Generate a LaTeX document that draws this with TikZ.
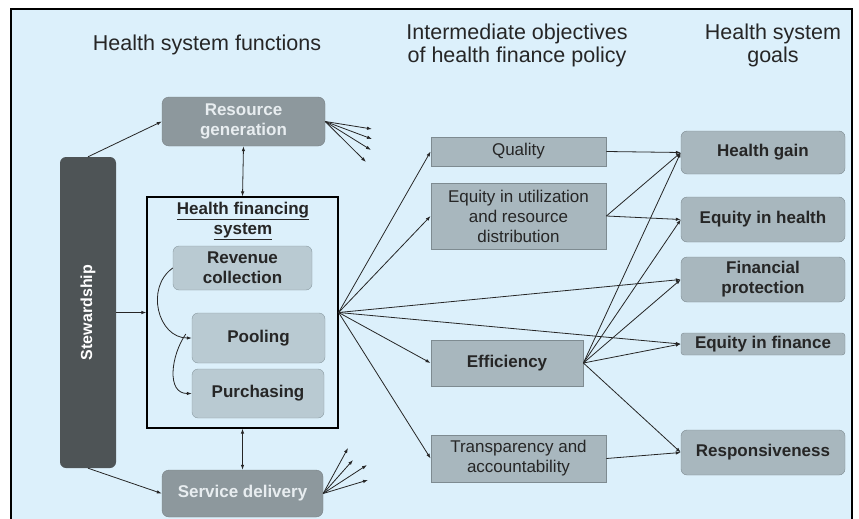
\documentclass[tikz,border=0pt]{standalone}
\usepackage{fontspec}
\usepackage{graphicx}
\setmainfont{Liberation Sans}
\usetikzlibrary{arrows.meta}

\definecolor{bg}{HTML}{DCF0FB}
\definecolor{stewfill}{HTML}{4E5456}
\definecolor{darkfill}{HTML}{8D989D}
\definecolor{darktext}{HTML}{E8EDF0}
\definecolor{subfill}{HTML}{B9CAD2}
\definecolor{subline}{HTML}{8A9AA1}
\definecolor{objfill}{HTML}{A8B7BE}
\definecolor{objline}{HTML}{7E8B91}
\definecolor{ink}{HTML}{262626}

\begin{document}
\begin{tikzpicture}[x=1pt, y=-1pt,
    every node/.style={align=center, inner sep=0pt, text=ink, font=\fontsize{17}{20}\selectfont},
    head/.style={font=\fontsize{21.5}{23}\selectfont},
    stewbox/.style={fill=stewfill, rounded corners=6pt, text=white, font=\fontsize{16}{19}\selectfont\bfseries},
    funcbox/.style={fill=darkfill, draw=darkfill!85!black, rounded corners=7pt, text=darktext, font=\fontsize{17}{20}\selectfont\bfseries},
    subbox/.style={fill=subfill, draw=subline, rounded corners=6pt, font=\fontsize{17}{20}\selectfont\bfseries},
    objbox/.style={fill=objfill, draw=objline, line width=0.8pt},
    goalbox/.style={fill=objfill, draw=objline, rounded corners=6pt, font=\fontsize{17}{20}\selectfont\bfseries},
    link/.style={draw=ink, line width=0.8pt, -{Latex[length=5pt,width=3.5pt]}},
    twoway/.style={draw=ink, line width=0.8pt, {Latex[length=5pt,width=3.5pt]}-{Latex[length=5pt,width=3.5pt]}}]
			\useasboundingbox (0,0) rectangle (859,519);
			\fill[white] (0,0) rectangle (859,519);
			\fill[bg] (11,9) rectangle (852,522);
			\draw[line width=1.6pt] (11,522) -- (11,9) -- (852,9) -- (852,522);
			
			% headings
			\node[head] (t1) at (207,45) {Health system functions};
			\node[head] (t2) at (517,45) {Intermediate objectives\\of health finance policy};
			\node[head] (t3) at (773,45) {Health system\\goals};
			
			% functions
			\node[stewbox, minimum width=56, minimum height=311] (stew) at (88,312.5) {\rotatebox{90}{Stewardship}};
			\node[funcbox, minimum width=163, minimum height=49] (res) at (243.5,121.5) {Resource\\generation};
			\node[funcbox, minimum width=161, minimum height=47] (serv) at (242.5,493.5) {Service delivery};
			\node[draw=black, line width=1.2pt, minimum width=191, minimum height=231] (hfs) at (242.5,312.5) {};
			\node[font=\fontsize{17}{20}\selectfont\bfseries] (title) at (243,221) {\underline{Health financing}\\\underline{system}};
			\node[subbox, minimum width=139, minimum height=44] (rev) at (242.5,268) {Revenue\\collection};
			\node[subbox, minimum width=133, minimum height=50] (pool) at (258.5,338) {Pooling};
			\node[subbox, minimum width=132, minimum height=49] (purch) at (258,393.5) {Purchasing};
			
			% intermediate objectives
			\node[objbox, minimum width=175, minimum height=29] (qual) at (518.5,151.5) {Quality};
			\node[objbox, minimum width=175, minimum height=66] (equ) at (518.5,216) {Equity in utilization\\and resource\\distribution};
			\node[objbox, minimum width=152, minimum height=46, font=\fontsize{17}{20}\selectfont\bfseries] (eff) at (507,363) {Efficiency};
			\node[objbox, minimum width=175, minimum height=47] (tra) at (518.5,458.5) {Transparency and\\accountability};
			
			% goals
			\node[goalbox, minimum width=164, minimum height=43] (gain) at (763,152.5) {Health gain};
			\node[goalbox, minimum width=164, minimum height=45] (eqh) at (763,219.5) {Equity in health};
			\node[goalbox, minimum width=164, minimum height=45] (fin) at (763,279.5) {Financial\\protection};
			\node[goalbox, minimum width=164, minimum height=22, rounded corners=3pt] (eqf) at (763,344) {Equity in finance};
			\node[goalbox, minimum width=164, minimum height=45] (resp) at (763,452.5) {Responsiveness};
			
			% loose ends of the fans
			\coordinate (r1) at (372,129);
			\coordinate (r2) at (372,139);
			\coordinate (r3) at (371,150);
			\coordinate (r4) at (366,162);
			\coordinate (s1) at (348,448);
			\coordinate (s2) at (353,460);
			\coordinate (s3) at (367,465);
			\coordinate (s4) at (368,480);
			
			\path (stew.north) edge[link] (res.west);
			\path (stew.east) edge[link] (hfs.west);
			\path (stew.south) edge[link] (serv.west);
			\path (res.south) edge[twoway] (hfs.north);
			\path (hfs.south) edge[twoway] (serv.north);
			\path (rev.west) edge[link, out=215, in=180, looseness=1.2] (pool.west);
			\path ([xshift=-6pt,yshift=4pt]pool.west) edge[link, out=235, in=180, looseness=1.1] (purch.west);
			\foreach \e in {r1,r2,r3,r4} \path (res.east) edge[link] (\e);
			\foreach \e in {s1,s2,s3,s4} \path (serv.east) edge[link] (\e);
			
			\path (hfs.east) edge[link] (qual.west);
			\path (hfs.east) edge[link] (equ.west);
			\path (hfs.east) edge[link] (fin.west);
			\path (hfs.east) edge[link] (eqf.west);
			\path (hfs.east) edge[link] (eff.west);
			\path (hfs.east) edge[link] (tra.west);
			
			\path (qual.east) edge[link] (gain.west);
			\path (equ.east) edge[link] (gain.west);
			\path (equ.east) edge[link] (eqh.west);
			\path (eff.east) edge[link] (gain.west);
			\path (eff.east) edge[link] (eqh.west);
			\path (eff.east) edge[link] (fin.west);
			\path (eff.east) edge[link] (eqf.west);
			\path (eff.east) edge[link] (resp.west);
			\path (tra.east) edge[link] (resp.west);
\end{tikzpicture}
\end{document}
